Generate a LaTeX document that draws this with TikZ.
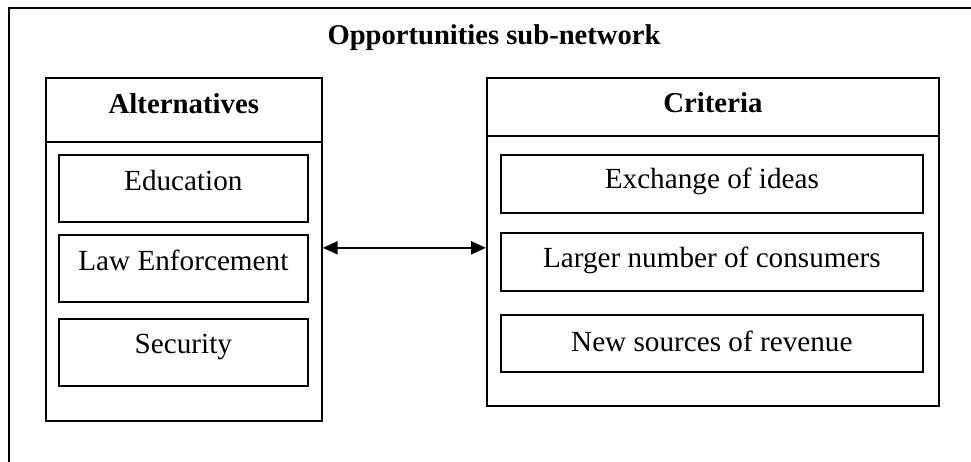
\documentclass[tikz,border=0pt]{standalone}
\usepackage{fontspec}
\setmainfont{Liberation Serif}
\usetikzlibrary{arrows.meta,positioning}

\tikzset{
  frameline/.style={draw=black, line width=1.7pt},
  panel/.style={frameline, fill=none, inner sep=0pt, anchor=north west},
  itembox/.style={frameline, inner sep=0pt, anchor=north west, align=center,
    font=\fontsize{29.2}{35}\selectfont},
  headbox/.style={itembox, font=\bfseries\fontsize{28.8}{35}\selectfont},
  link/.style={line width=2pt, {Triangle[length=15pt,width=13pt]}-{Triangle[length=15pt,width=13pt]}},
}

\begin{document}
\begin{tikzpicture}[x=1pt, y=-1pt]
  \useasboundingbox (0,0) rectangle (971,462);
  \fill[white] (0,0) rectangle (971,462);
  \clip (0,0) rectangle (971,462);

  % outer frame, running off the right and bottom edges
  \draw[frameline] (9,8) rectangle (1010,520);

  % title
  \node[anchor=base, font=\bfseries\fontsize{28.6}{35}\selectfont, inner sep=0pt]
    (title) at (494,45) {Opportunities sub-network};

  % Alternatives panel
  \node[panel, minimum width=276pt, minimum height=343pt] (alt) at (45,77) {};
  \node[headbox, minimum width=276pt, text height=36pt, text depth=28pt] (althead) at (45,77) {Alternatives};
  \node[itembox, minimum width=249pt, text height=36pt, text depth=31pt] (edu) at (58,154) {Education};
  \node[itembox, minimum width=249pt, text height=36pt, text depth=31pt] (law) at (58,234) {Law Enforcement};
  \node[itembox, minimum width=249pt, text height=35pt, text depth=32pt] (sec) at (58,318) {Security};

  % Criteria panel
  \node[panel, minimum width=452pt, minimum height=328pt] (crit) at (486,77) {};
  \node[headbox, minimum width=452pt, text height=35pt, text depth=23pt] (crithead) at (486,77) {Criteria};
  \node[itembox, minimum width=422pt, text height=34pt, text depth=24pt] (ideas) at (500,154) {Exchange of ideas};
  \node[itembox, minimum width=422pt, text height=35pt, text depth=23pt] (consumers) at (500,232) {Larger number of consumers};
  \node[itembox, minimum width=422pt, text height=37pt, text depth=20pt] (revenue) at (500,314) {New sources of revenue};

  % two-way link between the panels
  \coordinate (linkL) at ([yshift=1.5pt]alt.east);
  \draw[link] (linkL) -- (crit.west |- linkL);
\end{tikzpicture}
\end{document}
